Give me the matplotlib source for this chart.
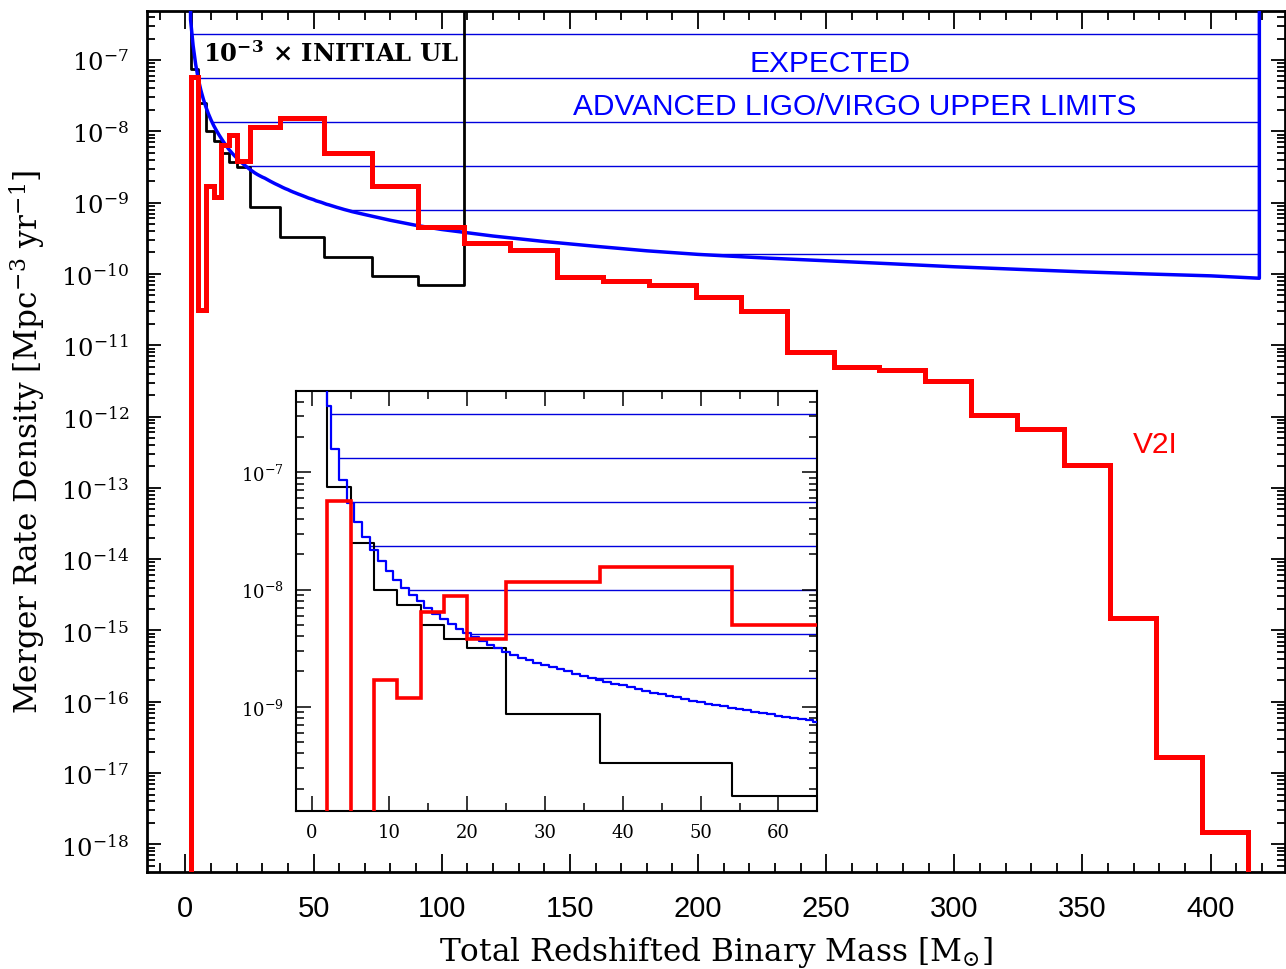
import numpy as np
import matplotlib
matplotlib.use('Agg')
import matplotlib.pyplot as plt
from matplotlib.patches import Polygon
from matplotlib.ticker import (MultipleLocator, LogLocator, FixedLocator, NullFormatter,
                               LogFormatterMathtext)

plt.rcParams['font.family'] = 'DejaVu Serif'
plt.rcParams['mathtext.fontset'] = 'dejavuserif'

# expected advanced LIGO/Virgo upper limit curve (1 Msun bins up to 65, sparser after)
blue_mass_fine = list(range(2, 66))
blue_rate_fine = [3.68e-7, 1.59e-7, 8.66e-8, 5.43e-8, 3.79e-8, 2.82e-8, 2.19e-8, 1.75e-8,
                  1.44e-8, 1.21e-8, 1.04e-8, 9.04e-9, 7.93e-9, 7.00e-9, 6.22e-9, 5.56e-9,
                  5.04e-9, 4.60e-9, 4.23e-9, 3.91e-9, 3.62e-9, 3.37e-9, 3.15e-9, 2.95e-9,
                  2.78e-9, 2.62e-9, 2.49e-9, 2.38e-9, 2.28e-9, 2.20e-9, 2.10e-9, 2.005e-9,
                  1.92e-9, 1.84e-9, 1.77e-9, 1.70e-9, 1.63e-9, 1.57e-9, 1.52e-9, 1.46e-9,
                  1.41e-9, 1.365e-9, 1.32e-9, 1.28e-9, 1.24e-9, 1.20e-9, 1.16e-9, 1.13e-9,
                  1.10e-9, 1.06e-9, 1.035e-9, 1.01e-9, 9.8e-10, 9.5e-10, 9.3e-10, 9.06e-10,
                  8.83e-10, 8.6e-10, 8.4e-10, 8.2e-10, 8.0e-10, 7.83e-10, 7.66e-10, 7.48e-10]
blue_mass_coarse = [70, 80, 90, 100, 120, 140, 160, 180, 200, 225, 250, 275, 300, 325,
                    350, 375, 400, 419]
blue_rate_coarse = [6.8e-10, 5.65e-10, 4.8e-10, 4.2e-10, 3.4e-10, 2.85e-10, 2.44e-10,
                    2.11e-10, 1.88e-10, 1.68e-10, 1.53e-10, 1.39e-10, 1.26e-10, 1.16e-10,
                    1.07e-10, 1.0e-10, 9.4e-11, 8.7e-11]

# histogram bin edges shared by the two models
bin_edges = [2, 5, 8, 11, 14, 17, 20, 25, 37, 54, 72.6, 90.8, 108.6, 126.6, 144.8, 163.0,
             180.9, 199.1, 216.8, 234.9, 252.9, 270.7, 288.7, 306.6, 324.5, 342.7, 360.7,
             378.6, 396.8, 414.7]

# 10^-3 x initial upper limits (black)
init_ul = [7.44e-8, 2.49e-8, 1.0e-8, 7.43e-9, 4.94e-9, 3.76e-9, 3.19e-9, 8.7e-10,
           3.29e-10, 1.72e-10, 9.25e-11, 7.06e-11]

# V2I model (red)
v2i = [5.69e-8, 3.1e-11, 1.70e-9, 1.18e-9, 6.43e-9, 8.77e-9, 3.80e-9, 1.15e-8, 1.55e-8,
       4.94e-9, 1.73e-9, 4.6e-10, 2.69e-10, 2.19e-10, 9.1e-11, 7.87e-11, 6.98e-11,
       4.78e-11, 2.99e-11, 8.1e-12, 4.9e-12, 4.53e-12, 3.18e-12, 1.05e-12, 6.68e-13,
       2.09e-13, 1.49e-15, 1.66e-17, 1.47e-18]

main_decades = list(range(-18, -6))
inset_decades = [-9, -8, -7]

CEIL = 1e-5
FLOOR = 1e-30


def stairs_xy(edges, vals, end):
    x = np.repeat(np.asarray(edges, float), 2)
    y = np.concatenate([[end], np.repeat(vals, 2), [end]])
    return x, y


def hatch(ax, fig, x, y, lw):
    # horizontal hatching of the region above the expected-limit curve
    poly = Polygon(np.column_stack([x, y]), closed=True, fill=False,
                   edgecolor='none', transform=ax.transData)
    ax.add_patch(poly)
    hpx = ax.get_position().height * fig.get_figheight() * fig.dpi
    k = 0
    while 23 + 44 * k < hpx:
        f = 1 - (23 + 44 * k) / hpx
        ln, = ax.plot([0, 1], [f, f], transform=ax.transAxes, color='#0000dd',
                      lw=lw, zorder=1)
        ln.set_clip_path(poly)
        k += 1


fig = plt.figure(figsize=(12.86, 9.70), dpi=100)
ax = fig.add_axes([0.1143, 0.1, 0.8849, 0.8881])
ins = fig.add_axes([0.2302, 0.1629, 0.4054, 0.433])

# ---------------- main panel
ax.set_yscale('log')
ax.set_xlim(-15, 429)
ax.set_ylim(4.1e-19, 4.94e-7)

bm = np.concatenate([blue_mass_fine, blue_mass_coarse])
br = np.concatenate([blue_rate_fine, blue_rate_coarse])
bx = np.concatenate([[bm[0]], bm, [bm[-1]]])
by = np.concatenate([[CEIL], br, [CEIL]])
hatch(ax, fig, bx, by, 1.0)

kx, ky = stairs_xy(bin_edges[:len(init_ul) + 1], init_ul, CEIL)
ax.plot(kx, ky, color='black', lw=2.0, zorder=2)
ax.plot(bx, by, color='#0000ff', lw=2.5, zorder=3)
rx, ry = stairs_xy(bin_edges, v2i, FLOOR)
ax.plot(rx, ry, color='#ff0000', lw=3.6, zorder=4, solid_joinstyle='miter')

ax.xaxis.set_major_locator(MultipleLocator(50))
ax.xaxis.set_minor_locator(MultipleLocator(10))
ax.yaxis.set_major_locator(FixedLocator(10.0 ** np.array(main_decades)))
ax.yaxis.set_minor_locator(LogLocator(base=10, subs=np.arange(2, 10), numticks=200))
ax.yaxis.set_major_formatter(LogFormatterMathtext())
ax.yaxis.set_minor_formatter(NullFormatter())
ax.tick_params(which='both', direction='in', top=True, right=True, width=1.3)
ax.tick_params(axis='x', which='major', length=13, pad=16, labelsize=21,
               labelfontfamily='Liberation Sans')
ax.tick_params(axis='x', which='minor', length=6.5)
ax.tick_params(axis='y', which='major', length=10, pad=13, labelsize=17.5)
ax.tick_params(axis='y', which='minor', length=5.5)
for s in ax.spines.values():
    s.set_linewidth(2)

ax.set_xlabel(r'Total Redshifted Binary Mass [M$_{\odot}$]', fontsize=22.5)
ax.set_ylabel(r'Merger Rate Density [Mpc$^{-3}$ yr$^{-1}$]', fontsize=22.5)
ax.xaxis.set_label_coords(0.5, -0.072)
ax.yaxis.set_label_coords(-0.087, 0.5)

ax.text(0.0492, 0.942, r'$\mathbf{10^{-3}}$ $\mathbf{\times}$ INITIAL UL', transform=ax.transAxes,
        fontsize=17.5, fontweight='bold', ha='left', va='baseline', zorder=6)
ax.text(0.600, 0.9303, 'EXPECTED', transform=ax.transAxes, color='#0000ff',
        fontsize=21.5, family='Liberation Sans', ha='center', va='baseline')
ax.text(0.622, 0.8804, 'ADVANCED LIGO/VIRGO UPPER LIMITS', transform=ax.transAxes,
        color='#0000ff', fontsize=21.5, family='Liberation Sans', ha='center', va='baseline')
ax.text(0.8664, 0.4878, 'V2I', transform=ax.transAxes, color='#ff0000',
        fontsize=21.5, family='Liberation Sans', ha='left', va='baseline')

# ---------------- inset zoom on low masses
ins.set_facecolor('white')
ins.set_yscale('log')
ins.set_xlim(-2, 65)
ins.set_ylim(1.29e-10, 4.94e-7)

fx, fy = stairs_xy(np.concatenate([[blue_mass_fine[0]],
                                   np.array(blue_mass_fine[1:]) - 0.5,
                                   [blue_mass_fine[-1] + 0.5]]), blue_rate_fine, CEIL)
hatch(ins, fig, fx, fy, 1.0)
ins.plot(kx, ky, color='black', lw=1.5, zorder=2)
ins.plot(fx, fy, color='#0000ff', lw=1.6, zorder=3)
ins.plot(rx, ry, color='#ff0000', lw=2.6, zorder=4, solid_joinstyle='miter')

ins.xaxis.set_major_locator(MultipleLocator(10))
ins.xaxis.set_minor_locator(MultipleLocator(5))
ins.yaxis.set_major_locator(FixedLocator(10.0 ** np.array(inset_decades)))
ins.yaxis.set_minor_locator(LogLocator(base=10, subs=np.arange(2, 10), numticks=100))
ins.yaxis.set_major_formatter(LogFormatterMathtext())
ins.yaxis.set_minor_formatter(NullFormatter())
ins.tick_params(which='both', direction='in', top=True, right=True, width=1.1,
                labelsize=13)
ins.tick_params(which='major', length=11, pad=9)
ins.tick_params(which='minor', length=5.5)
for s in ins.spines.values():
    s.set_linewidth(1.5)

fig.savefig('out.png', dpi=100)
